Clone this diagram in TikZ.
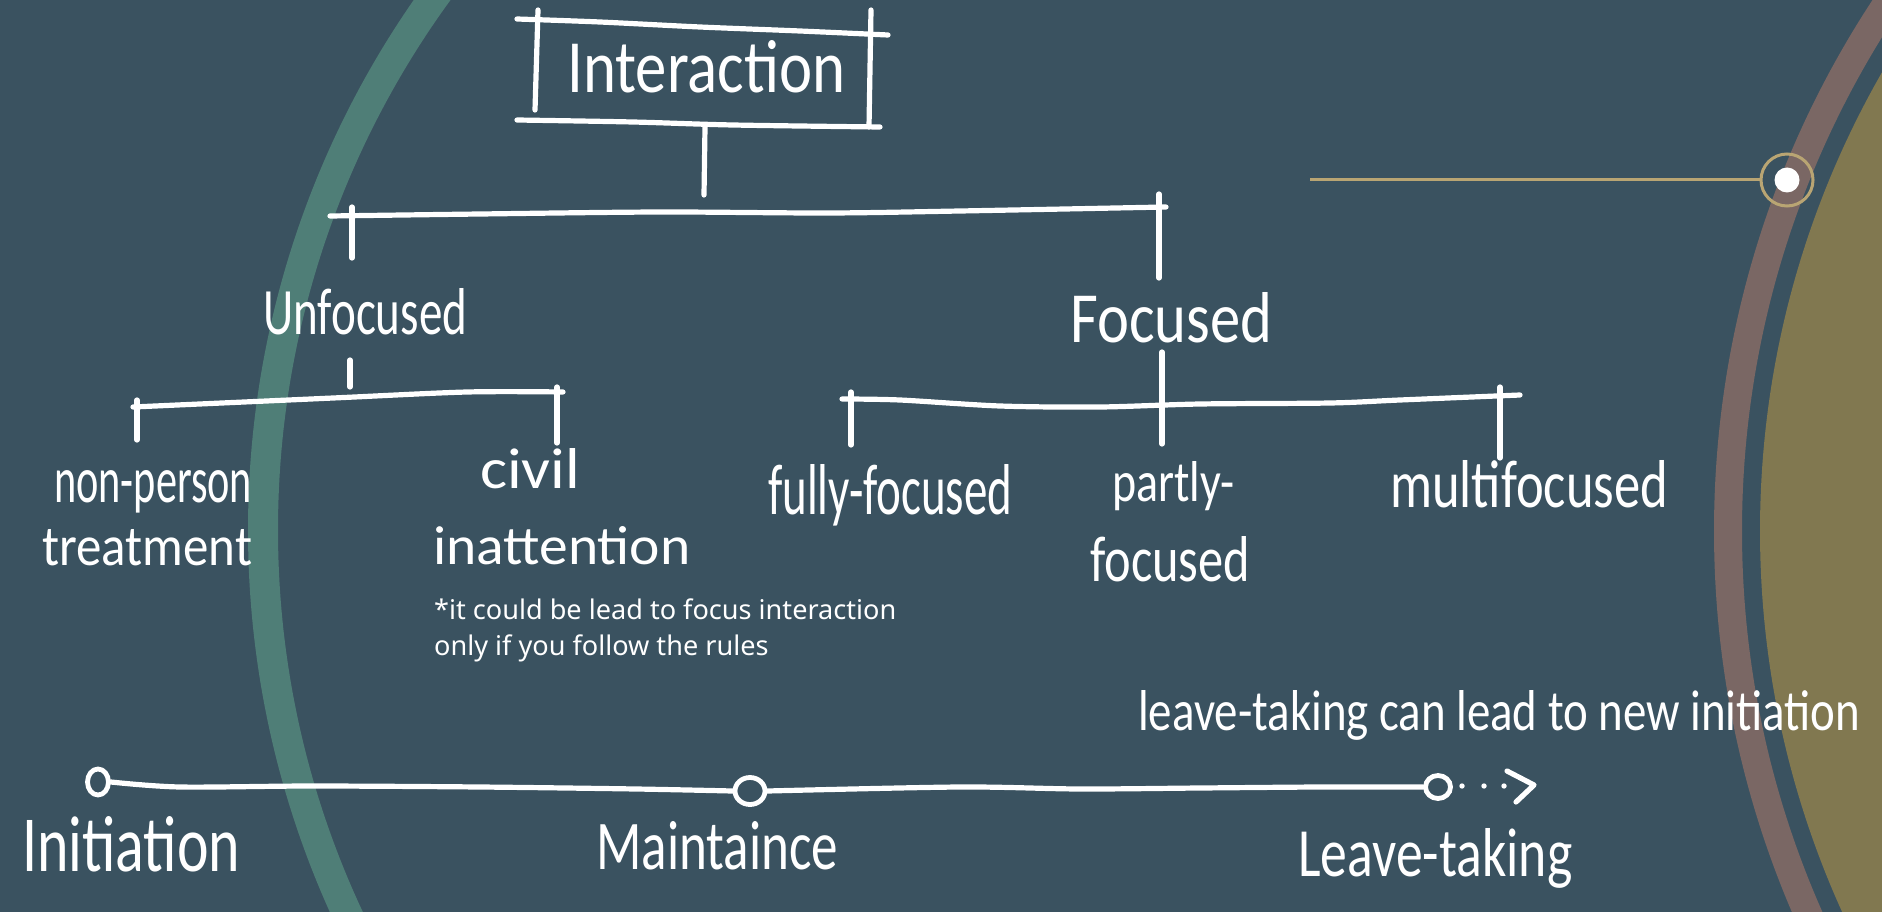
\documentclass[tikz,border=0pt]{standalone}
\usepackage{fontspec}
\usetikzlibrary{shapes.geometric}
\newfontfamily\hwfont{Carlito}
\newfontfamily\notefont{Noto Sans}
\definecolor{slate}{HTML}{3A5260}
\definecolor{sea}{HTML}{4F7E77}
\definecolor{mauve}{HTML}{7A6764}
\definecolor{khaki}{HTML}{817850}
\definecolor{brass}{HTML}{B9A573}
% hand-lettered label: width, ascender height (pt), text
\newcommand\hwlabel[3]{\resizebox{#1pt}{#2pt}{\hwfont #3}}

\begin{document}
\begin{tikzpicture}[x=1pt,y=-1pt,
  ink/.style={draw=white, line width=5.2pt, line cap=round, line join=round},
  hw/.style={text=white, inner sep=0pt, anchor=base west},
  ring/.style={draw=white, line width=4.8pt, ellipse, inner sep=0pt}]

\useasboundingbox (0,0) rectangle (1882,912);
\fill[slate] (0,0) rectangle (1882,912);

% decorative arcs
\begin{scope}
  \clip (0,0) rectangle (1882,912);
  \draw[sea, line width=30pt] (1178,530) circle[radius=915];
  \draw[mauve, line width=28pt] (2682,531) circle[radius=954];
  \fill[khaki] (2682,531) circle[radius=922];
\end{scope}

% brass pointer with marker
\node[circle, draw=brass, line width=3pt, minimum size=52pt, inner sep=0pt] (hub) at (1787,180) {};
\fill[white] (hub.center) circle[radius=12.5];
\coordinate (ptr) at (1310,180);
\draw[brass, line width=3pt] (ptr) -- (hub.west);

% ---------- hierarchy ----------
\node[hw] (inter) at (567,93) {\hwlabel{278}{52}{Interaction}};
\coordinate (boxTL) at (517,19);  \coordinate (boxTR) at (888,35);
\coordinate (boxBL) at (517,120); \coordinate (boxBR) at (880,127);
\draw[ink] plot[smooth] coordinates {(boxTL) (600,22) (700,27) (800,31) (boxTR)};
\draw[ink] plot[smooth] coordinates {(boxBL) (633,122) (733,125) (boxBR)};
\draw[ink] (538,10) -- (535,110);
\draw[ink] (871,10) -- (869,127);
\coordinate (stemtop) at (705,127); \coordinate (stembot) at (704,195);
\draw[ink] (stemtop) -- (stembot);

\coordinate (barL) at (330,216); \coordinate (barR) at (1166,207);
\draw[ink] plot[smooth] coordinates {(barL) (480,214) (660,212) (828,213) (960,211) (barR)};
\draw[ink] (352,207) -- (352,258);
\draw[ink] (1159,194) -- (1159,278);

\node[hw] (unf) at (263,334) {\hwlabel{204}{46}{Unfocused}};
\node[hw] (foc) at (1070,342) {\hwlabel{202}{50}{Focused}};

% unfocused branch
\draw[ink] (350,360) -- (350,387);
\coordinate (ubarL) at (133,407); \coordinate (ubarR) at (563,392);
\draw[ink] plot[smooth] coordinates {(ubarL) (333,398) (467,392) (ubarR)};
\draw[ink] (137,400) -- (137,440);
\draw[ink] (557,387) -- (557,443);

\node[hw] (np1) at (54,502) {\hwlabel{198}{32}{non-person}};
\node[hw] (np2) at (42,565) {\hwlabel{210}{36}{treatment}};
\node[hw] (ci1) at (480,488) {\hwlabel{100}{40}{civil}};
\node[hw] (ci2) at (433,564) {\hwlabel{257}{38}{inattention}};

\node[hw, align=left, font=\notefont\fontsize{27.1}{36}\selectfont] (note) at (434,655)
  {*it could be lead to focus interaction\\only if you follow the rules};

% focused branch
\draw[ink] (1162,352) -- (1162,444);
\coordinate (fbarL) at (842,399); \coordinate (fbarR) at (1520,395);
\draw[ink] plot[smooth] coordinates {(fbarL) (900,400) (1000,406) (1100,407) (1200,404) (1330,403) (1400,400) (fbarR)};
\draw[ink] (851,392) -- (851,445);
\draw[ink] (1500,387) -- (1500,458);

\node[hw] (ff) at (768,514) {\hwlabel{244}{50}{fully-focused}};
\node[hw] (pf1) at (1112,501) {\hwlabel{122}{40}{partly-}};
\node[hw] (pf2) at (1090,581) {\hwlabel{160}{45}{focused}};
\node[hw] (mf) at (1390,507) {\hwlabel{278}{47}{multifocused}};

% ---------- timeline ----------
\node[hw] (renew) at (1138,730) {\hwlabel{722}{40}{leave-taking can lead to new initiation}};

\node[ring, minimum width=21pt, minimum height=26pt] (c1) at (98,782) {};
\node[ring, minimum width=30pt, minimum height=27pt] (c2) at (750,791) {};
\node[ring, minimum width=25pt, minimum height=23pt] (c3) at (1438,787) {};
\draw[ink] plot[smooth] coordinates {(c1.east) (180,787) (312,786) (480,787) (636,789) (c2.west)};
\draw[ink] plot[smooth] coordinates {(c2.east) (960,787) (1080,789) (1200,788) (1320,787) (c3.west)};
\foreach \dx in {1462,1484,1504}
  \fill[white] (\dx,786) circle[radius=2.7];
\coordinate (tipA) at (1507,771); \coordinate (tip) at (1534,785); \coordinate (tipB) at (1516,802);
\draw[ink] (tipA) -- (tip) -- (tipB);

\node[hw] (st1) at (22,871) {\hwlabel{218}{55}{Initiation}};
\node[hw] (st2) at (596,869) {\hwlabel{242}{48}{Maintaince}};
\node[hw] (st3) at (1298,876) {\hwlabel{274}{48}{Leave-taking}};

\end{tikzpicture}
\end{document}
